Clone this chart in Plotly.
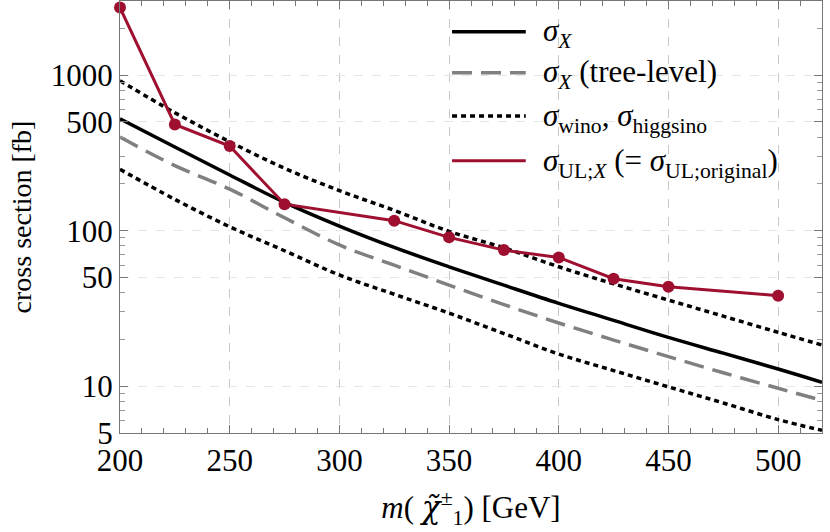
import plotly.graph_objects as go

# masas del chargino (GeV) para las curvas teóricas
m_curve = [200, 225, 250, 275, 300, 325, 350, 375, 400, 425, 450, 475, 500, 520]

# secciones eficaces (fb)
sigma_x = [525, 345, 228, 152, 107, 78, 58.6, 44.6, 34.1, 26.5, 20.6, 16.3, 12.9, 10.6]
sigma_x_tree = [400, 262, 185, 121, 81, 60, 44.7, 33.5, 25.5, 19.8, 15.5, 12.2, 9.7, 8.1]
sigma_wino = [920, 574, 373, 252, 181, 135, 99, 77.6, 58.6, 45.5, 35.8, 28.2, 22.2, 18.4]
sigma_higgsino = [248, 159, 106, 74.3, 51.9, 39, 29.5, 21.8, 16.1, 12.6, 9.9, 7.8, 6.1, 5.2]

# límite superior observado
m_ul = [200, 225, 250, 275, 325, 350, 375, 400, 425, 450, 500]
sigma_ul = [2720, 482, 350, 148, 116, 90.6, 75, 67.3, 49.1, 43.6, 38.2]

FONT = "Liberation Serif"
RED = "#9f1030"
DOT = dict(color="black", width=3.5, dash="5px,4px")
DASH = dict(color="#808080", width=3.5, dash="20px,9px")
SOLID = dict(color="black", width=3.5)

fig = go.Figure()

for ys in (sigma_wino, sigma_higgsino):
    fig.add_trace(go.Scatter(x=m_curve, y=ys, mode="lines", line_shape="spline",
                             line=DOT, showlegend=False))

fig.add_trace(go.Scatter(x=m_curve, y=sigma_x_tree, mode="lines", line_shape="spline",
                         line=DASH, showlegend=False))
fig.add_trace(go.Scatter(x=m_curve, y=sigma_x, mode="lines", line_shape="spline",
                         line=SOLID, showlegend=False))
fig.add_trace(go.Scatter(
    x=m_ul, y=sigma_ul, mode="lines+markers",
    line=dict(color=RED, width=3), marker=dict(color=RED, size=12),
    cliponaxis=False, showlegend=False,
))

# leyenda manual (muestras largas como en el original)
legend_items = [
    ("<i>σ</i><sub><i>X</i></sub>", SOLID),
    ("<i>σ</i><sub><i>X</i></sub> (tree-level)", DASH),
    ("<i>σ</i><sub>wino</sub>, <i>σ</i><sub>higgsino</sub>", DOT),
    ("<i>σ</i><sub>UL;<i>X</i></sub> (= <i>σ</i><sub>UL;original</sub>)", dict(color=RED, width=3)),
]
legend_y = [0.929, 0.834, 0.734, 0.630]
for (label, ln), yy in zip(legend_items, legend_y):
    fig.add_shape(type="line", xref="paper", yref="paper",
                  x0=0.473, x1=0.578, y0=yy, y1=yy, line=ln)
    fig.add_annotation(xref="paper", yref="paper", x=0.600, y=yy - 0.004,
                       text=label, showarrow=False, xanchor="left", yanchor="middle",
                       font=dict(family=FONT, size=31, color="black"))

axis_common = dict(
    showline=True, linecolor="#777777", linewidth=1, mirror="allticks",
    ticks="inside", ticklen=8, tickcolor="#777777",
    tickfont=dict(family=FONT, size=31, color="black"),
    showgrid=True, griddash="dash", zeroline=False, automargin=False,
)

fig.update_xaxes(
    **axis_common,
    range=[200, 520], tickvals=[200, 250, 300, 350, 400, 450, 500],
    gridcolor="#c8c8c8", gridwidth=1,
    minor=dict(dtick=10, tick0=200, ticks="inside", ticklen=5, tickcolor="#777777", showgrid=False),
    title=dict(text="<i>m</i>( <span style='font-family:DejaVu Serif'><i>χ̃</i></span><sup>±</sup><sub>1</sub>) [GeV]",
               font=dict(family=FONT, size=31, color="black"), standoff=19),
)
minor_y = [6, 7, 8, 9, 20, 30, 40, 60, 70, 80, 90, 200, 300, 400, 600, 700, 800, 900, 2000, 3000]
fig.update_yaxes(
    **axis_common,
    type="log", range=[0.69897, 3.477],
    tickvals=[5, 10, 50, 100, 500, 1000], ticktext=["5", "10", "50", "100", "500", "1000"],
    gridcolor="#e6e6e6", gridwidth=1,
    minor=dict(tickvals=minor_y, ticks="inside", ticklen=5, tickcolor="#999999", showgrid=False),
    title=dict(text="cross section [fb]", font=dict(family=FONT, size=28, color="black"), standoff=10),
)

fig.update_layout(
    width=830, height=532,
    margin=dict(l=120, r=8, t=1, b=99),
    plot_bgcolor="white", paper_bgcolor="white",
    font=dict(family=FONT),
)

# sin el margen por defecto del <body> y sin barra de herramientas
fig.write_html("out.html", config={"displayModeBar": False},
               post_script="document.body.style.margin='0';")
